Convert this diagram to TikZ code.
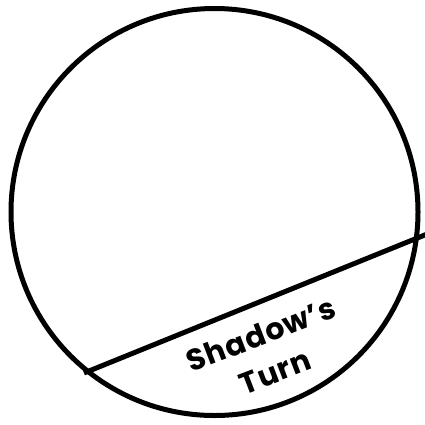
\documentclass[tikz,border=0pt]{standalone}
\usepackage{fontspec}
\setmainfont{Poppins}
\newfontfamily\lblfont{Poppins}[LetterSpace=3]
\begin{document}
\begin{tikzpicture}[x=1pt,y=-1pt,
  ink/.style={line width=5pt,draw=black},
  lbl/.style={font=\lblfont\bfseries\fontsize{30}{40}\selectfont,align=center,rotate=21,inner sep=0pt}]
\useasboundingbox (0,0) rectangle (425,424);
\coordinate (c) at (214.5,212);
\draw[ink] (c) circle[radius=203.5];
\coordinate (a) at (84,373);
\coordinate (b) at (426,234.5);
\draw[ink] (a) -- (b);
\node[lbl] (t) at (268,353) {Shadow’s\\Turn};
\end{tikzpicture}
\end{document}
